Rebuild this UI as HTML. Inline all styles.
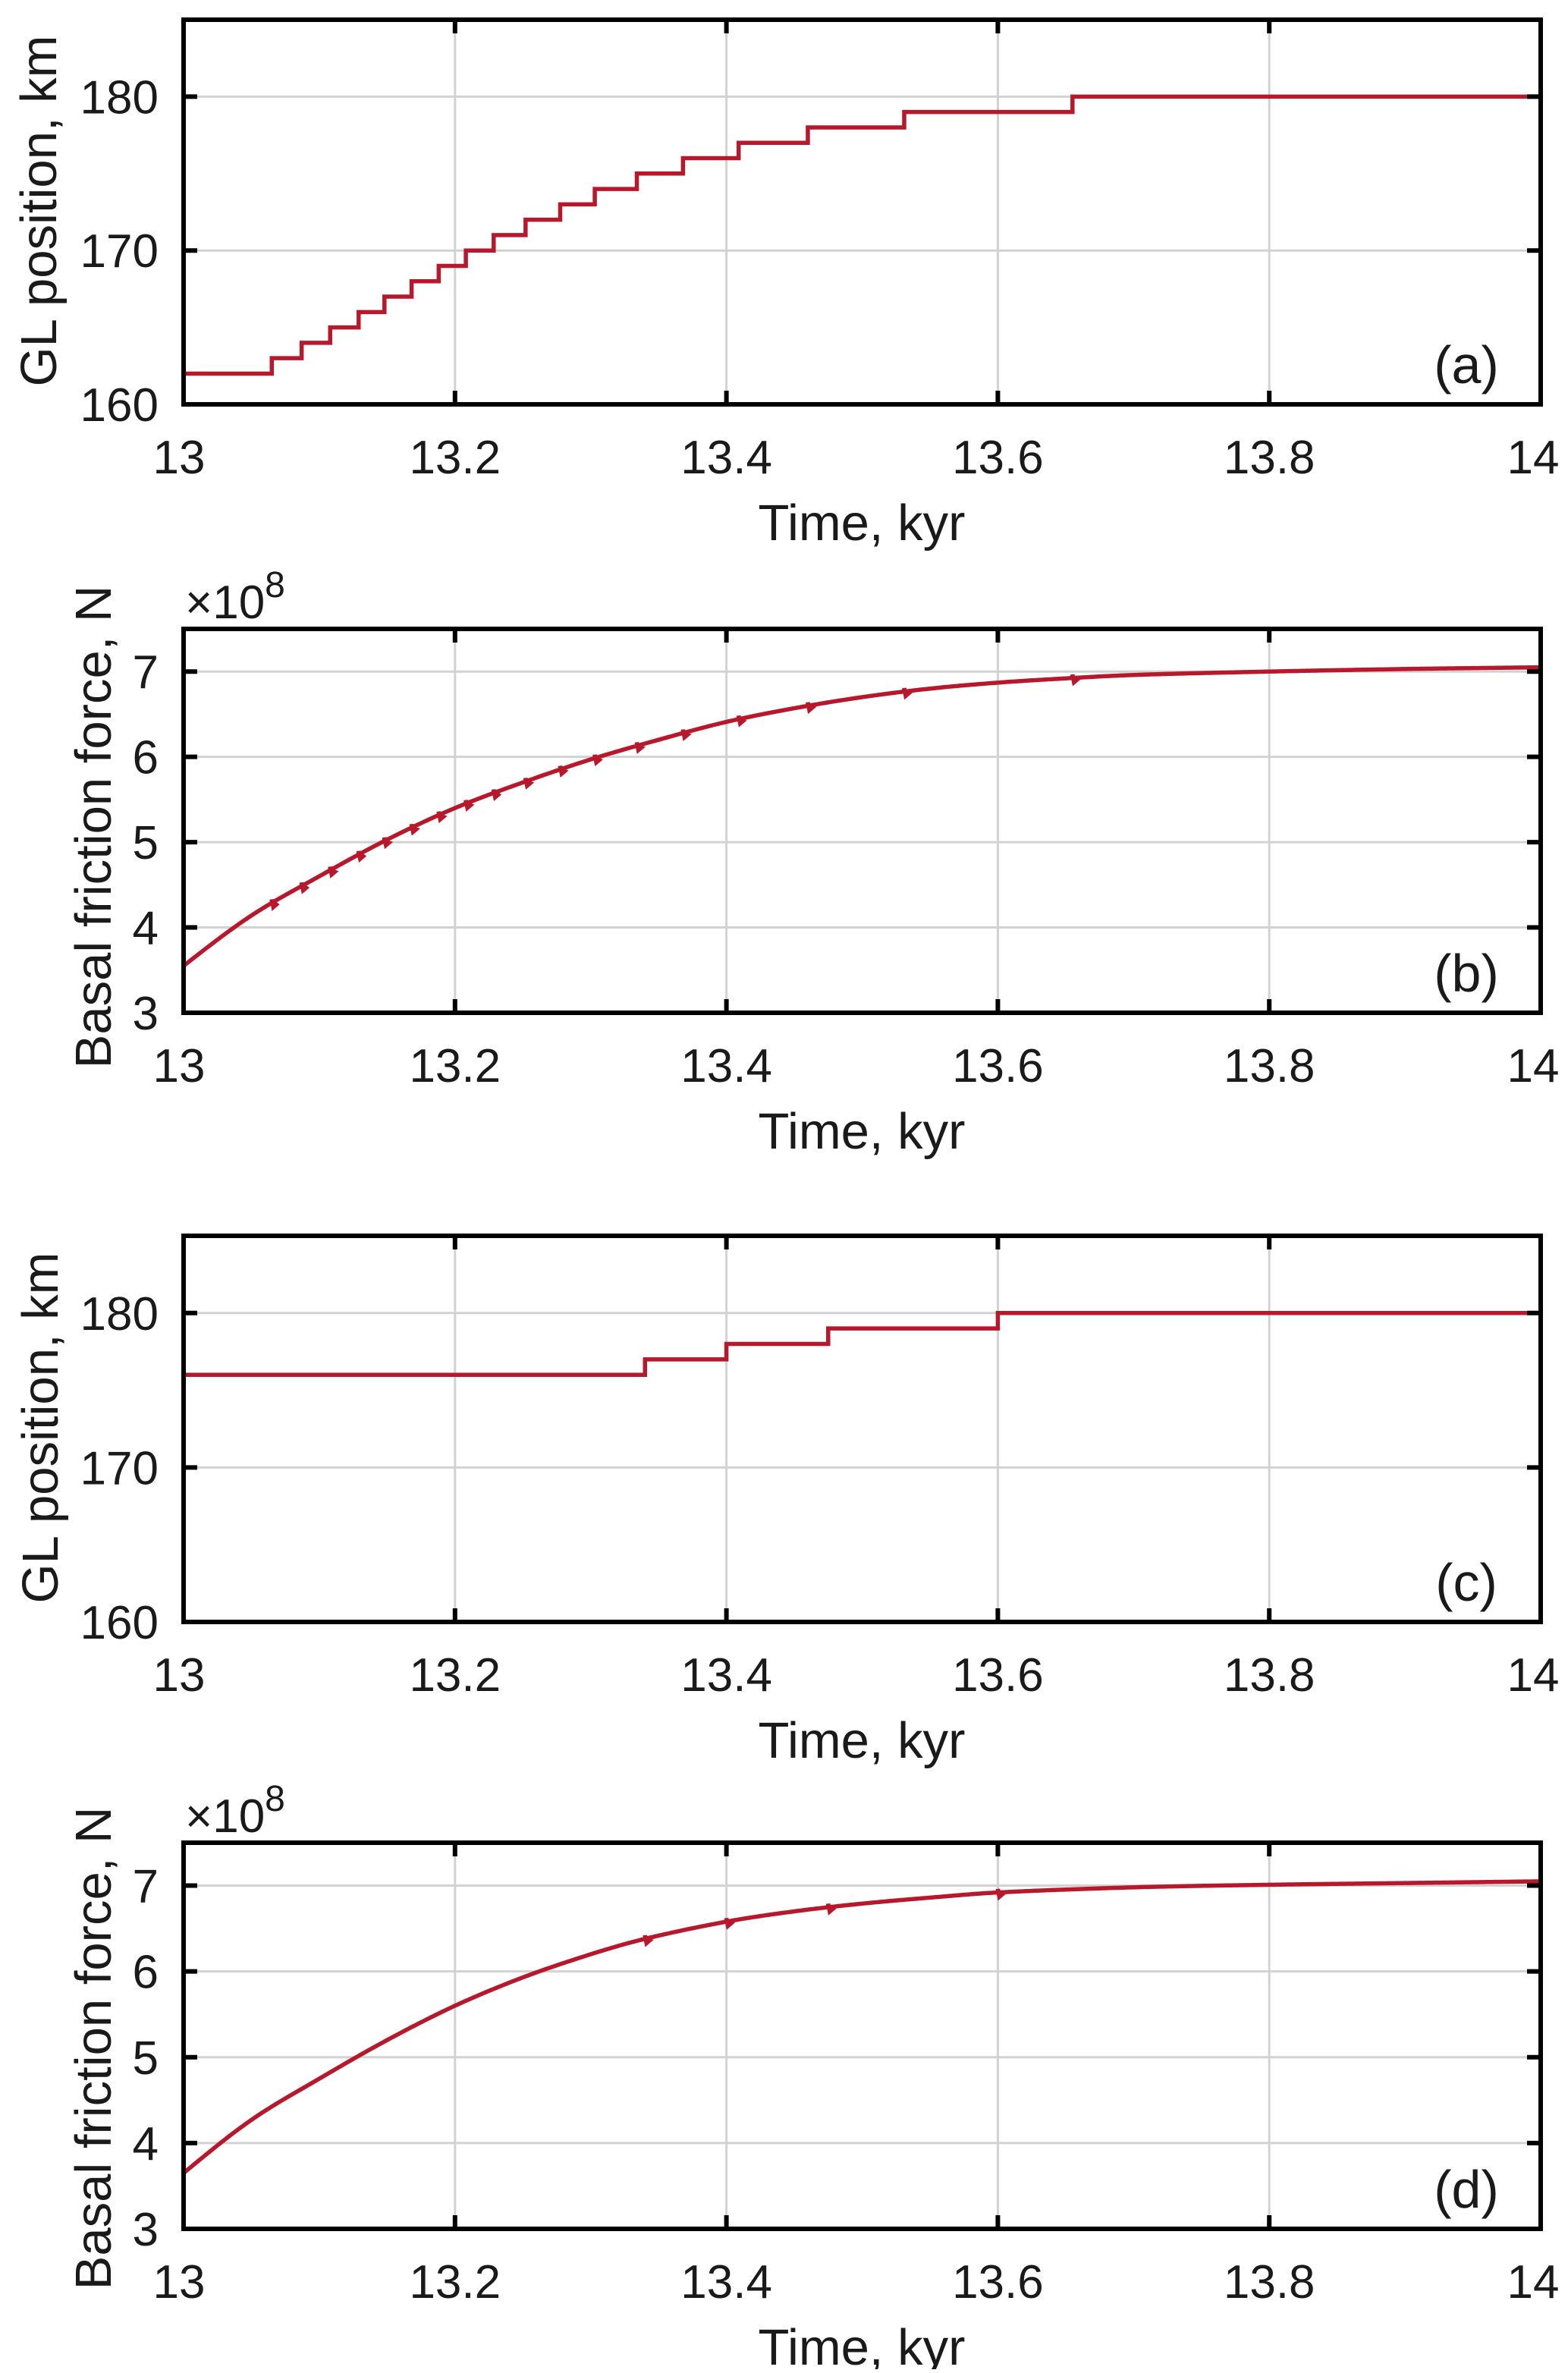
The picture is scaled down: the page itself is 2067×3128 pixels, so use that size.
<!DOCTYPE html>
<html><head><meta charset="utf-8"><style>
html,body{margin:0;padding:0;background:#fff;}
svg text{font-family:"Liberation Sans",Arial,sans-serif;fill:#1a1a1a;}
</style></head><body>
<svg id="fig" width="2067" height="3123" viewBox="0 0 2067 3123" xmlns="http://www.w3.org/2000/svg"></svg>
<script>
// ---- data ----
const xTicks = [13, 13.2, 13.4, 13.6, 13.8, 14];
const xTickLabels = ["13", "13.2", "13.4", "13.6", "13.8", "14"];
const glTicks = [160, 170, 180];
const bfTicks = [3, 4, 5, 6, 7];
// panel a: GL position step times and levels
const aStepTimes = [13.065, 13.087, 13.108, 13.129, 13.148, 13.168, 13.188, 13.208, 13.2285, 13.252, 13.2775, 13.303, 13.334, 13.368, 13.409, 13.46, 13.531, 13.655];
const aStart = 162;
// panel b: basal friction (x1e8)
const bTimes = [13, 13.05, 13.1, 13.15, 13.2, 13.25, 13.3, 13.35, 13.4, 13.45, 13.5, 13.55, 13.6, 13.65, 13.7, 13.8, 13.9, 14];
const bValues = [3.55, 4.14, 4.6, 5.03, 5.4, 5.7, 5.97, 6.2, 6.41, 6.57, 6.7, 6.8, 6.87, 6.92, 6.96, 7.0, 7.03, 7.05];
// panel c
const cStepTimes = [13.34, 13.4, 13.475, 13.6];
const cStart = 176;
// panel d
const dTimes = [13, 13.05, 13.1, 13.15, 13.2, 13.25, 13.3, 13.34, 13.4, 13.45, 13.5, 13.55, 13.6, 13.7, 13.8, 13.9, 14];
const dValues = [3.65, 4.27, 4.75, 5.2, 5.6, 5.93, 6.2, 6.38, 6.58, 6.7, 6.79, 6.86, 6.92, 6.98, 7.01, 7.03, 7.05];

const NS = "http://www.w3.org/2000/svg";
const svg = document.getElementById('fig');
const L = 242, R = 2031;
function mk(tag, attrs, parent) {
  const e = document.createElementNS(NS, tag);
  for (const k in attrs) e.setAttribute(k, attrs[k]);
  (parent || svg).appendChild(e);
  return e;
}
function interp(ts, vs, t) {
  const n = ts.length;
  for (let i = 0; i < n - 1; i++) {
    if (t >= ts[i] && t <= ts[i + 1]) {
      const h = ts[i + 1] - ts[i], s = (t - ts[i]) / h;
      const m = k => {
        if (k === 0) return 1.5 * (vs[1] - vs[0]) / (ts[1] - ts[0]) - 0.5 * (vs[2] - vs[0]) / (ts[2] - ts[0]);
        if (k === n - 1) return (vs[n - 1] - vs[n - 2]) / (ts[n - 1] - ts[n - 2]);
        return (vs[k + 1] - vs[k - 1]) / (ts[k + 1] - ts[k - 1]);
      };
      const h00 = 2*s*s*s - 3*s*s + 1, h10 = s*s*s - 2*s*s + s, h01 = -2*s*s*s + 3*s*s, h11 = s*s*s - s*s;
      return h00*vs[i] + h10*h*m(i) + h01*vs[i+1] + h11*h*m(i+1);
    }
  }
  return vs[n - 1];
}

function panel(opts) {
  const g = mk('g', {});
  
  
  const T = opts.top, B = opts.bottom;
  const x = v => L + (v - 13) / (14 - 13) * (R - L);
  const y = v => B - (v - opts.ymin) / (opts.ymax - opts.ymin) * (B - T);
  xTicks.forEach(v => {
    const l = mk('line', {x1: x(v), x2: x(v), y1: T, y2: B, stroke: '#d2d2d2', 'stroke-width': 3}, g);
    
    
  });
  opts.yticks.forEach(v => {
    const l = mk('line', {x1: L, x2: R, y1: y(v), y2: y(v), stroke: '#d2d2d2', 'stroke-width': 3}, g);
    
    
  });
  const p = mk('path', {d: opts.path(x, y), fill: 'none', stroke: '#b8182c', 'stroke-width': 5.5, 'stroke-linejoin': 'miter'}, g);
  
  
  xTicks.forEach((v, i) => {
    mk('line', {x1: x(v), x2: x(v), y1: B, y2: B - 18, stroke: '#000', 'stroke-width': 6}, g);
    mk('line', {x1: x(v), x2: x(v), y1: T, y2: T + 18, stroke: '#000', 'stroke-width': 6}, g);
    const t = mk('text', {x: x(v) + (i === 0 ? -6 : i === 5 ? -10 : 0), y: B + 91, 'font-size': 62, 'text-anchor': 'middle'}, g);
    t.textContent = xTickLabels[i];
    
    
  });
  opts.yticks.forEach(v => {
    mk('line', {x1: L, x2: L + 18, y1: y(v), y2: y(v), stroke: '#000', 'stroke-width': 6}, g);
    mk('line', {x1: R, x2: R - 18, y1: y(v), y2: y(v), stroke: '#000', 'stroke-width': 6}, g);
    const t = mk('text', {x: 209, y: y(v) + 22, 'font-size': 62, 'text-anchor': 'end'}, g);
    t.textContent = String(v);
    
    
  });
  const f = mk('rect', {x: L, y: T, width: R - L, height: B - T, fill: 'none', stroke: '#000', 'stroke-width': 6}, g);
  
  
  const xl = mk('text', {x: 1136, y: B + 179, 'font-size': 67, 'text-anchor': 'middle'}, g);
  xl.textContent = 'Time, kyr';
  
  
  const yl = mk('text', {x: 0, y: 0, 'font-size': 67, 'text-anchor': 'middle', transform: `translate(${opts.ylx},${opts.yly}) rotate(-90)`}, g);
  yl.textContent = opts.ylabel;
  
  
  const pl = mk('text', {x: 1933, y: B - 28, 'font-size': 70, 'text-anchor': 'middle'}, g);
  pl.textContent = opts.tag;
  
  
  if (opts.exp) {
    const e = mk('text', {x: 244, y: T - 14, 'font-size': 62}, g);
    
    
    e.appendChild(document.createTextNode('\u00d710'));
    const s = mk('tspan', {dy: -28, 'font-size': 48}, e);
    s.textContent = '8';
  }
}

function stepPath(times, start) {
  return (x, y) => {
    let lvl = start, d = `M${x(13)},${y(lvl)}`;
    times.forEach(t => { d += ` L${x(t)},${y(lvl)}`; lvl += 1; d += ` L${x(t)},${y(lvl)}`; });
    d += ` L${x(14)},${y(lvl)}`;
    return d;
  };
}
function curvePath(ts, vs, notchTimes) {
  return (x, y) => {
    let d = '', ni = 0;
    for (let i = 0; i <= 500; i++) {
      const t = 13 + i / 500, v = interp(ts, vs, t);
      while (ni < notchTimes.length && notchTimes[ni] <= t) {
        const nt = notchTimes[ni], nv = interp(ts, vs, nt);
        d += ` L${x(nt)},${y(nv)} L${x(nt)},${y(nv + 0.04)} L${x(nt) + 2},${y(nv - 0.05)} L${x(nt) + 6},${y(nv - 0.02)}`;
        ni++;
      }
      d += (i === 0 ? 'M' : ' L') + x(t) + ',' + y(v);
    }
    return d;
  };
}

panel({name: 'panel-a', top: 26, bottom: 533, ymin: 160, ymax: 185, yticks: glTicks, ylabel: 'GL position, km', ylx: 74, yly: 278, tag: '(a)', path: stepPath(aStepTimes, aStart)});
panel({name: 'panel-b', top: 829, bottom: 1335, ymin: 3, ymax: 7.5, yticks: bfTicks, ylabel: 'Basal friction force, N', ylx: 146, yly: 1090, tag: '(b)', exp: true, path: curvePath(bTimes, bValues, aStepTimes)});
panel({name: 'panel-c', top: 1629, bottom: 2138, ymin: 160, ymax: 185, yticks: glTicks, ylabel: 'GL position, km', ylx: 76, yly: 1882, tag: '(c)', path: stepPath(cStepTimes, cStart)});
panel({name: 'panel-d', top: 2429, bottom: 2938, ymin: 3, ymax: 7.5, yticks: bfTicks, ylabel: 'Basal friction force, N', ylx: 146, yly: 2700, tag: '(d)', exp: true, path: curvePath(dTimes, dValues, cStepTimes)});
</script>
</body></html>
